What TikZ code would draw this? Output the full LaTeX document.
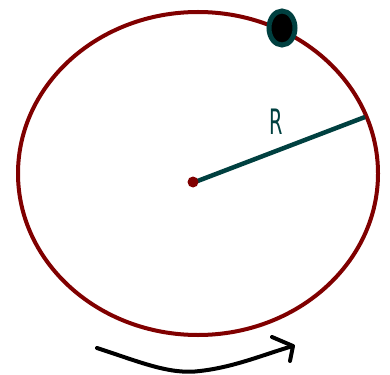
\documentclass[tikz,border=0pt]{standalone}
\usepackage{fontspec}
\setmainfont{DejaVu Sans}
\usetikzlibrary{shapes.geometric}
\definecolor{ringred}{RGB}{128,0,0}
\definecolor{teal}{RGB}{0,64,64}
\begin{document}
\begin{tikzpicture}[x=1pt,y=-1pt,
  ring/.style={draw=ringred,line width=4pt},
  radius line/.style={draw=teal,line width=4.5pt},
  beadshape/.style={ellipse,draw=teal,fill=black,line width=5pt,inner sep=0pt,minimum width=26pt,minimum height=34pt},
  motion/.style={draw=black,line width=4pt,line cap=round,line join=round}]
\useasboundingbox (0,0) rectangle (390,374);
\draw[ring] (198,173.5) ellipse [x radius=180, y radius=161.5];
\coordinate (c) at (195,182);
\coordinate (edge) at (365,117);
\draw[radius line] (c) -- (edge);
\fill[ringred] (193,182) circle [radius=5.5];
\node (bead) [beadshape] at (282,28) {};
\node (lab) [text=teal,xscale=0.55,font=\fontsize{35}{35}\selectfont] at (276,122) {R};
\coordinate (a0) at (97,348);
\coordinate (a1) at (293,346);
\draw[motion] (a0) .. controls (140,362) and (170,375) .. (200,371) .. controls (235,367) and (265,354) .. (a1);
\coordinate (h1) at (272,337);
\coordinate (h2) at (290,361);
\draw[motion] (h1) -- (a1) -- (h2);
\end{tikzpicture}
\end{document}
